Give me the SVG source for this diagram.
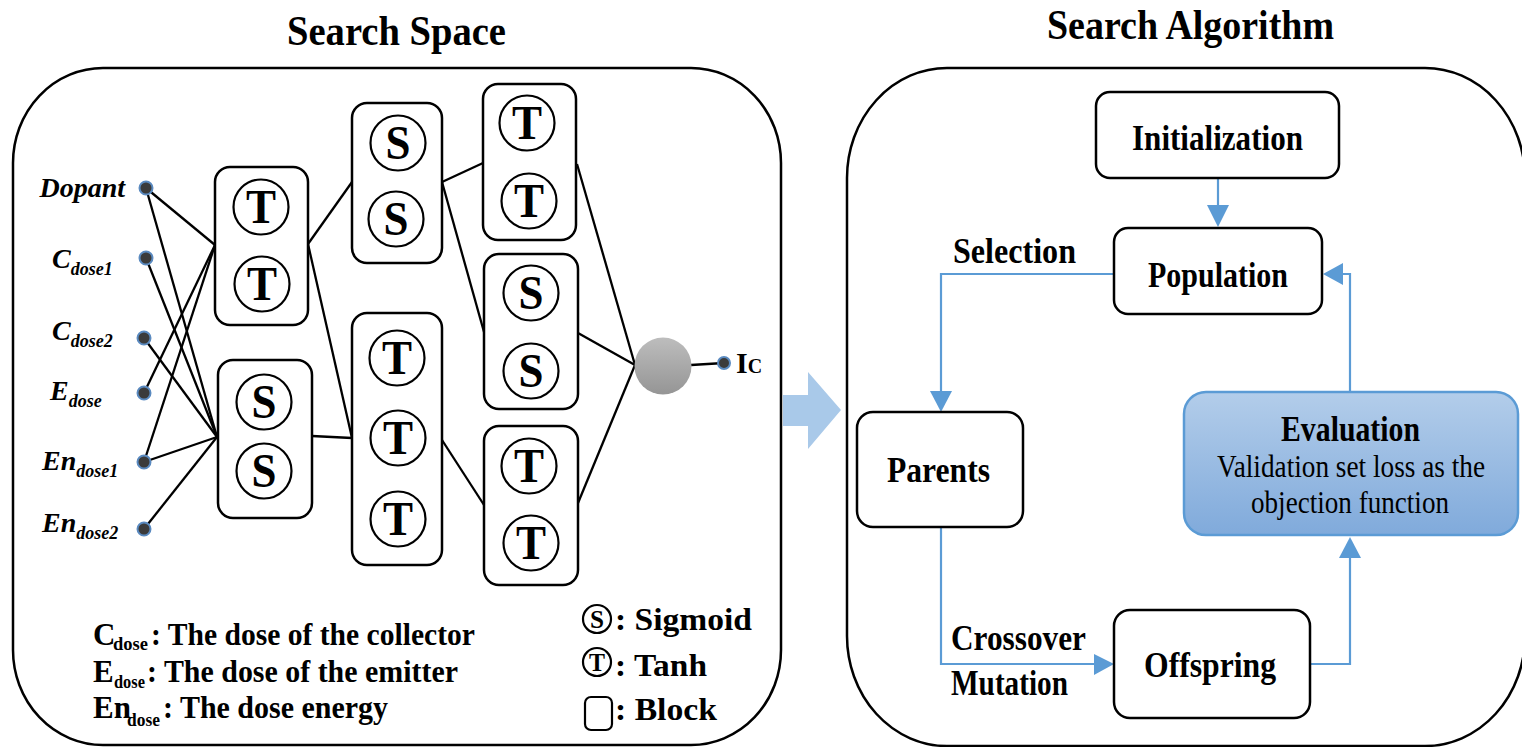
<svg xmlns="http://www.w3.org/2000/svg" width="1522" height="747" viewBox="0 0 1522 747">
  <style>
    .frame { fill: none; stroke: #000; stroke-width: 2.5; }
    .blk { fill: #fff; stroke: #000; stroke-width: 2.5; }
    .unit { fill: #fff; stroke: #000; stroke-width: 2.2; }
    .wire { stroke: #000; stroke-width: 2.3; fill: none; }
    .dot { fill: #3b3b3b; stroke: #5a8ac0; stroke-width: 2; }
    .flow { stroke: #5b9bd5; stroke-width: 2.2; fill: none; }
    .head { fill: #5b9bd5; }
    .box { fill: #fff; stroke: #000; stroke-width: 2.5; }
    .t { font-family: "Liberation Serif", "Times New Roman", serif; font-weight: bold; fill: #000; }
    .r { font-family: "Liberation Serif", "Times New Roman", serif; font-weight: normal; fill: #000; }
    .inp { font-family: "Liberation Serif", "Times New Roman", serif; font-weight: bold; font-style: italic; font-size: 28px; fill: #000; }
    .isub { font-size: 18px; }
    .unitTxt { font-family: "Liberation Serif", "Times New Roman", serif; font-weight: bold; font-size: 48px; text-anchor: middle; fill: #000; }
    .mid { text-anchor: middle; }
  </style>
  <defs>
    <linearGradient id="grayBall" x1="0" y1="0" x2="0" y2="1">
      <stop offset="0" stop-color="#bdbdbd"/>
      <stop offset="1" stop-color="#959595"/>
    </linearGradient>
    <linearGradient id="evalFill" x1="0" y1="0" x2="0" y2="1">
      <stop offset="0" stop-color="#b3cdea"/>
      <stop offset="1" stop-color="#80aadb"/>
    </linearGradient>
    <g id="tUnit">
      <circle class="unit" r="27.5"/>
      <text class="unitTxt" y="16" textLength="30" lengthAdjust="spacingAndGlyphs">T</text>
    </g>
    <g id="sUnit">
      <circle class="unit" r="27.5"/>
      <text class="unitTxt" y="16" textLength="25" lengthAdjust="spacingAndGlyphs">S</text>
    </g>
  </defs>

  <!-- titles -->
  <text class="t" x="287" y="45" font-size="43" textLength="219" lengthAdjust="spacingAndGlyphs">Search Space</text>
  <text class="t" x="1047" y="39" font-size="42" textLength="287" lengthAdjust="spacingAndGlyphs">Search Algorithm</text>

  <!-- panel frames -->
  <rect class="frame" x="13" y="68" width="768" height="677" rx="90" ry="95"/>
  <rect class="frame" x="847" y="68" width="678" height="678" rx="100" ry="110"/>

  <!-- transition arrow between panels -->
  <polygon fill="#a9c9e9" points="783,395 808,395 808,372 841,410 808,449 808,426 783,426"/>

  <!-- network wiring -->
  <g id="net-wires">
    <line class="wire" x1="146" y1="188" x2="215" y2="245"/>
    <line class="wire" x1="146" y1="188" x2="217" y2="437"/>
    <line class="wire" x1="146" y1="258" x2="217" y2="437"/>
    <line class="wire" x1="144" y1="338" x2="217" y2="437"/>
    <line class="wire" x1="144" y1="393" x2="215" y2="245"/>
    <line class="wire" x1="144" y1="462" x2="215" y2="245"/>
    <line class="wire" x1="144" y1="462" x2="217" y2="437"/>
    <line class="wire" x1="144" y1="529" x2="217" y2="437"/>
    <line class="wire" x1="308" y1="244" x2="352" y2="182"/>
    <line class="wire" x1="308" y1="244" x2="352" y2="438"/>
    <line class="wire" x1="312" y1="436" x2="352" y2="438"/>
    <line class="wire" x1="442" y1="182" x2="483" y2="163"/>
    <line class="wire" x1="442" y1="182" x2="484" y2="332"/>
    <line class="wire" x1="442" y1="440" x2="484" y2="505"/>
    <line class="wire" x1="577" y1="164" x2="635" y2="365"/>
    <line class="wire" x1="578" y1="333" x2="635" y2="365"/>
    <line class="wire" x1="578" y1="503" x2="635" y2="365"/>
    <line class="wire" x1="691" y1="365" x2="724" y2="363"/>
  </g>

  <!-- inputs -->
  <g id="in-dopant">
    <circle class="dot" cx="146" cy="188" r="6.5"/>
    <text class="inp" x="125" y="197" text-anchor="end">Dopant</text>
  </g>
  <g id="in-cdose1">
    <circle class="dot" cx="146" cy="258" r="6.5"/>
    <text class="inp" x="52" y="268">C<tspan class="isub" dy="7">dose1</tspan></text>
  </g>
  <g id="in-cdose2">
    <circle class="dot" cx="144" cy="338" r="6.5"/>
    <text class="inp" x="52" y="340">C<tspan class="isub" dy="7">dose2</tspan></text>
  </g>
  <g id="in-edose">
    <circle class="dot" cx="144" cy="393" r="6.5"/>
    <text class="inp" x="50" y="400">E<tspan class="isub" dy="7">dose</tspan></text>
  </g>
  <g id="in-endose1">
    <circle class="dot" cx="144" cy="462" r="6.5"/>
    <text class="inp" x="42" y="470">En<tspan class="isub" dy="7">dose1</tspan></text>
  </g>
  <g id="in-endose2">
    <circle class="dot" cx="144" cy="529" r="6.5"/>
    <text class="inp" x="42" y="532">En<tspan class="isub" dy="7">dose2</tspan></text>
  </g>

  <!-- blocks -->
  <g id="block-1">
    <rect class="blk" x="215" y="167" width="93" height="158" rx="15"/>
    <use href="#tUnit" x="261" y="207"/>
    <use href="#tUnit" x="262" y="284"/>
  </g>
  <g id="block-2">
    <rect class="blk" x="218" y="360" width="94" height="158" rx="15"/>
    <use href="#sUnit" x="264" y="402"/>
    <use href="#sUnit" x="264" y="471"/>
  </g>
  <g id="block-3">
    <rect class="blk" x="352" y="103" width="90" height="160" rx="15"/>
    <use href="#sUnit" x="398" y="143"/>
    <use href="#sUnit" x="396" y="219"/>
  </g>
  <g id="block-4">
    <rect class="blk" x="352" y="313" width="90" height="252" rx="15"/>
    <use href="#tUnit" x="397" y="358"/>
    <use href="#tUnit" x="398" y="438"/>
    <use href="#tUnit" x="398" y="519"/>
  </g>
  <g id="block-5">
    <rect class="blk" x="483" y="84" width="93" height="156" rx="15"/>
    <use href="#tUnit" x="527" y="123"/>
    <use href="#tUnit" x="529" y="201"/>
  </g>
  <g id="block-6">
    <rect class="blk" x="484" y="254" width="94" height="155" rx="15"/>
    <use href="#sUnit" x="531" y="293"/>
    <use href="#sUnit" x="531" y="371"/>
  </g>
  <g id="block-7">
    <rect class="blk" x="484" y="426" width="94" height="159" rx="15"/>
    <use href="#tUnit" x="529" y="466"/>
    <use href="#tUnit" x="531" y="543"/>
  </g>

  <!-- output -->
  <g id="output">
    <circle cx="663" cy="366" r="28.5" fill="url(#grayBall)"/>
    <circle class="dot" cx="724" cy="363" r="6"/>
    <text class="t" x="736" y="373" font-size="30">I<tspan font-size="20">C</tspan></text>
  </g>

  <!-- legend -->
  <g id="legend-abbrev">
    <text class="t" x="93" y="645" font-size="31">C</text>
    <text class="t" x="113" y="650" font-size="19" textLength="35" lengthAdjust="spacingAndGlyphs">dose</text>
    <text class="t" x="151" y="645" font-size="32" textLength="324" lengthAdjust="spacingAndGlyphs">: The dose of the collector</text>
    <text class="t" x="93" y="682" font-size="31">E</text>
    <text class="t" x="114" y="688" font-size="19" textLength="31" lengthAdjust="spacingAndGlyphs">dose</text>
    <text class="t" x="147" y="682" font-size="32" textLength="311" lengthAdjust="spacingAndGlyphs">: The dose of the emitter</text>
    <text class="t" x="93" y="718" font-size="31">En</text>
    <text class="t" x="127" y="726" font-size="19" textLength="33" lengthAdjust="spacingAndGlyphs">dose</text>
    <text class="t" x="163" y="718" font-size="32" textLength="225" lengthAdjust="spacingAndGlyphs">: The dose energy</text>
  </g>
  <g id="legend-symbols">
    <circle class="unit" cx="597" cy="619" r="14"/>
    <text class="t mid" x="597" y="628" font-size="26" textLength="14" lengthAdjust="spacingAndGlyphs">S</text>
    <circle class="unit" cx="597" cy="662" r="14"/>
    <text class="t mid" x="597" y="671" font-size="26" textLength="16" lengthAdjust="spacingAndGlyphs">T</text>
    <rect class="unit" x="585" y="697" width="27" height="33" rx="6"/>
    <text class="t" x="615" y="630" font-size="31" textLength="137" lengthAdjust="spacingAndGlyphs">: Sigmoid</text>
    <text class="t" x="615" y="676" font-size="31" textLength="92" lengthAdjust="spacingAndGlyphs">: Tanh</text>
    <text class="t" x="615" y="720" font-size="31" textLength="102" lengthAdjust="spacingAndGlyphs">: Block</text>
  </g>

  <!-- search algorithm connectors -->
  <g id="flow">
    <polyline class="flow" points="1218,178 1218,206"/>
    <polygon class="head" points="1207,205 1229,205 1218,227"/>
    <polyline class="flow" points="1114,274 941,274 941,392"/>
    <polygon class="head" points="930,391 952,391 941,412"/>
    <polyline class="flow" points="941,527 941,664 1095,664"/>
    <polygon class="head" points="1094,654 1094,675 1114,664"/>
    <polyline class="flow" points="1310,664 1350,664 1350,557"/>
    <polygon class="head" points="1339,558 1361,558 1350,537"/>
    <polyline class="flow" points="1350,392 1350,274 1343,274"/>
    <polygon class="head" points="1343,263 1343,285 1323,274"/>
    <text class="t" x="953" y="263" font-size="35" textLength="123" lengthAdjust="spacingAndGlyphs">Selection</text>
    <text class="t" x="951" y="650" font-size="35" textLength="135" lengthAdjust="spacingAndGlyphs">Crossover</text>
    <text class="t" x="951" y="695" font-size="35" textLength="117" lengthAdjust="spacingAndGlyphs">Mutation</text>
  </g>

  <!-- search algorithm stages -->
  <g id="initialization">
    <rect class="box" x="1096" y="92" width="243" height="86" rx="14"/>
    <text class="t" x="1132" y="150" font-size="35" textLength="171" lengthAdjust="spacingAndGlyphs">Initialization</text>
  </g>
  <g id="population">
    <rect class="box" x="1114" y="228" width="208" height="86" rx="14"/>
    <text class="t" x="1148" y="287" font-size="35" textLength="140" lengthAdjust="spacingAndGlyphs">Population</text>
  </g>
  <g id="parents">
    <rect class="box" x="857" y="412" width="166" height="115" rx="16"/>
    <text class="t" x="887" y="482" font-size="35" textLength="103" lengthAdjust="spacingAndGlyphs">Parents</text>
  </g>
  <g id="offspring">
    <rect class="box" x="1114" y="610" width="196" height="108" rx="16"/>
    <text class="t" x="1144" y="677" font-size="35" textLength="132" lengthAdjust="spacingAndGlyphs">Offspring</text>
  </g>
  <g id="evaluation">
    <rect x="1184" y="392" width="334" height="143" rx="22" fill="url(#evalFill)" stroke="#5b9bd5" stroke-width="2.5"/>
    <text class="t" x="1281" y="441" font-size="35" textLength="139" lengthAdjust="spacingAndGlyphs">Evaluation</text>
    <text class="r" x="1217" y="477" font-size="31" textLength="268" lengthAdjust="spacingAndGlyphs">Validation set loss as the</text>
    <text class="r" x="1251" y="513" font-size="31" textLength="198" lengthAdjust="spacingAndGlyphs">objection function</text>
  </g>
</svg>
